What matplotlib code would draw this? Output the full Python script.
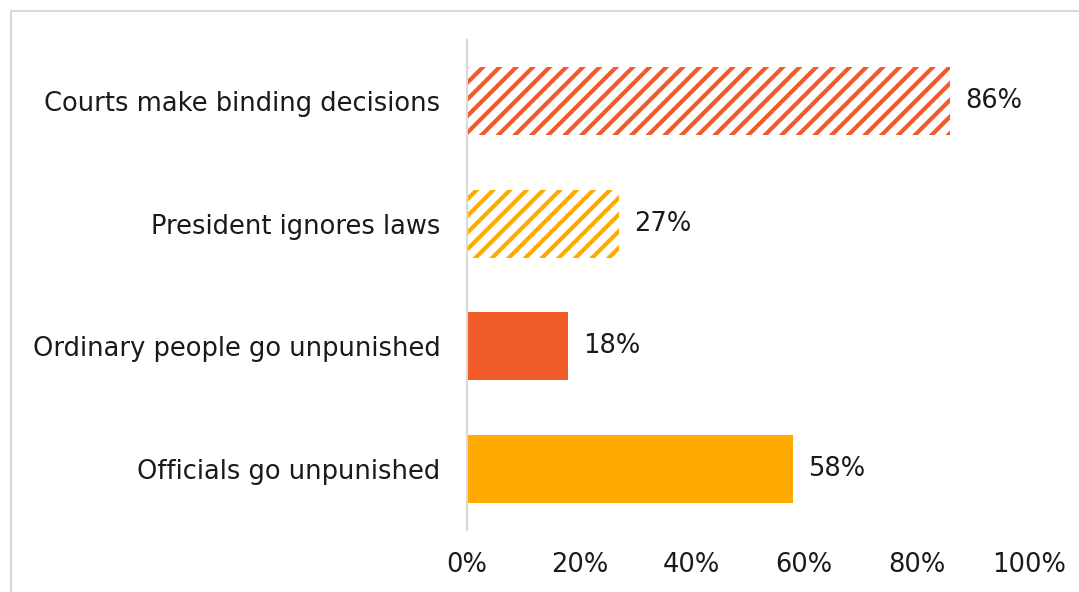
import matplotlib
matplotlib.use("Agg")
import matplotlib.pyplot as plt
from matplotlib.patches import Rectangle

# data, top to bottom
categories = ["Courts make binding decisions", "President ignores laws",
              "Ordinary people go unpunished", "Officials go unpunished"]
values = [86, 27, 18, 58]
colors = ["#F15A29", "#FFAA00", "#F15A29", "#FFAA00"]
hatched = [True, True, False, False]
xticks = [0, 20, 40, 60, 80, 100]

plt.rcParams.update({
    "font.family": ["DejaVu Sans"],
    "font.size": 18.5,
    "hatch.linewidth": 3.0,
})

fig = plt.figure(figsize=(10.79, 5.92), dpi=100)
ax = fig.add_axes([467 / 1079, 1 - 530 / 592, (1029 - 467) / 1079, 490 / 592])

for i, (v, c, h) in enumerate(zip(values, colors, hatched)):
    if h:
        ax.barh(i, v, height=0.555, facecolor="white", edgecolor=c, hatch="//", linewidth=0)
    else:
        ax.barh(i, v, height=0.555, color=c, linewidth=0)
    ax.text(v + 2.7, i, f"{v}%", va="center", ha="left", color="#1a1a1a")

ax.set_xlim(0, 100)
ax.set_ylim(3.5, -0.5)
ax.set_yticks(range(len(categories)))
ax.set_yticklabels(categories)
ax.set_xticks(xticks)
ax.set_xticklabels([f"{t}%" for t in xticks])
ax.tick_params(axis="y", length=0, pad=19, labelcolor="#1a1a1a")
ax.tick_params(axis="x", length=0, pad=16, labelcolor="#1a1a1a")
for s in ["top", "right", "bottom"]:
    ax.spines[s].set_visible(False)
ax.spines["left"].set_color("#D9D9D9")
ax.spines["left"].set_linewidth(1.5)

# chart frame
fig.patches.append(Rectangle((11 / 1079, -0.1), 1.2, 1 - 11 / 592 + 0.1,
                             transform=fig.transFigure, fill=False,
                             edgecolor="#D9D9D9", linewidth=1.5))

fig.savefig("out.png", dpi=100)
